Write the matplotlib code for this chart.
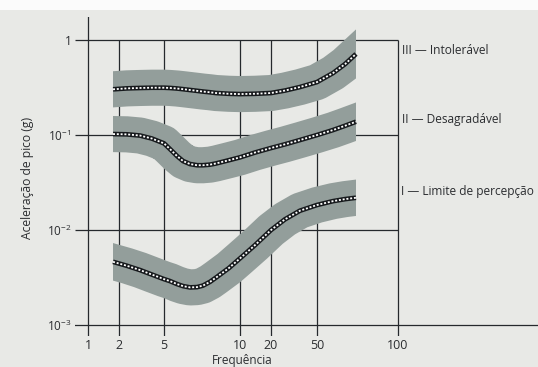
import numpy as np
import matplotlib
matplotlib.use("Agg")
import matplotlib.pyplot as plt
from matplotlib.patches import Rectangle
import matplotlib.transforms as mtransforms

# Frequências (Hz) onde as curvas foram lidas
freq = [1.75, 2.35, 3.07, 3.91, 5.0, 5.28, 5.63, 5.95, 6.34, 6.76, 7.13, 7.61,
        8.03, 9.04, 10.0, 14.0, 20.0, 26.4, 35.6, 50.0, 57.4, 63.6, 69.8]

# Aceleração de pico (g) - curva III (intolerável)
acel_III = [0.302, 0.309, 0.312, 0.314, 0.314, 0.312, 0.308, 0.303, 0.297, 0.291, 0.286, 0.281,
            0.276, 0.271, 0.269, 0.271, 0.276, 0.293, 0.319, 0.360, 0.449, 0.558, 0.712]
# curva II (desagradável)
acel_II = [0.1019, 0.1012, 0.0983, 0.0914, 0.0813, 0.0708, 0.0598, 0.0529, 0.0492, 0.0478, 0.0478, 0.0485,
           0.0499, 0.0540, 0.0579, 0.0651, 0.0726, 0.0794, 0.0881, 0.0995, 0.1124, 0.1247, 0.1375]
# curva I (limite de percepção)
acel_I = [0.00458, 0.00416, 0.00375, 0.00336, 0.00301, 0.00287, 0.00267, 0.00254, 0.00246, 0.00248,
          0.00257, 0.00282, 0.00312, 0.00394, 0.00498, 0.00688, 0.00991, 0.01285, 0.01585, 0.0182,
          0.0200, 0.0210, 0.0217]

rotulos = ["III — Intolerável", "II — Desagradável", "I — Limite de percepção"]

tick_freqs = [1, 2, 5, 10, 20, 50, 100]
tick_labels = ["1", "2", "5", "10", "20", "50", "100"]
y_ticks = [1e-3, 1e-2, 1e-1, 1]
y_labels = [r"$\mathregular{10^{-3}}$", r"$\mathregular{10^{-2}}$", r"$\mathregular{10^{-1}}$", "1"]

# posição horizontal (px) das divisões impressas - o eixo original não é log regular
tick_px = np.array([88, 119, 164, 240, 271, 317, 398], dtype=float)
log_t = np.log10(tick_freqs)


def para_px(f):
    lf = np.log10(np.clip(np.asarray(f, dtype=float), 1e-9, None))
    out = np.interp(lf, log_t, tick_px)
    s0 = (tick_px[1] - tick_px[0]) / (log_t[1] - log_t[0])
    s1 = (tick_px[-1] - tick_px[-2]) / (log_t[-1] - log_t[-2])
    out = np.where(lf < log_t[0], tick_px[0] + (lf - log_t[0]) * s0, out)
    out = np.where(lf > log_t[-1], tick_px[-1] + (lf - log_t[-1]) * s1, out)
    return out


def de_px(p):
    p = np.asarray(p, dtype=float)
    lf = np.interp(p, tick_px, log_t)
    s0 = (log_t[1] - log_t[0]) / (tick_px[1] - tick_px[0])
    s1 = (log_t[-1] - log_t[-2]) / (tick_px[-1] - tick_px[-2])
    lf = np.where(p < tick_px[0], log_t[0] + (p - tick_px[0]) * s0, lf)
    lf = np.where(p > tick_px[-1], log_t[-1] + (p - tick_px[-1]) * s1, lf)
    return 10 ** lf


plt.rcParams["font.family"] = ["Open Sans", "DejaVu Sans"]
plt.rcParams["mathtext.fontset"] = "custom"
plt.rcParams["mathtext.rm"] = "Open Sans"

W, H = 538, 367
cor_fundo = "#e8e9e6"
cor_linha = "#25292d"
cor_faixa = "#939e9b"
cor_texto = "#2b2d30"

fig = plt.figure(figsize=(W / 100, H / 100), dpi=100, facecolor=cor_fundo)
fig.patches.append(Rectangle((0, 1 - 10 / H), 1, 10 / H, transform=fig.transFigure,
                             facecolor="#fbfbfb", edgecolor="none", zorder=0))

ax = fig.add_axes([75 / W, 1 - 336 / H, (538 - 75) / W, (336 - 17) / H])
ax.set_facecolor("none")
ax.set_xscale("function", functions=(para_px, de_px))
ax.set_yscale("log")
x0, x1 = float(de_px(75)), float(de_px(538))
ax.set_xlim(x0, x1)
# 1 em y=40px e 10^-3 em y=324.5px
dec = (324.5 - 40) / 3
ax.set_ylim(10 ** (-3 - (336 - 324.5) / dec), 10 ** ((40 - 17) / dec))
for s in ax.spines.values():
    s.set_visible(False)

# linhas da grade
lw_g = 0.9
ax.axvline(1, color=cor_linha, lw=lw_g, zorder=1)
ax.vlines(tick_freqs[1:], ax.get_ylim()[0], 1, color=cor_linha, lw=lw_g, zorder=1)
ax.hlines([1, 1e-1, 1e-2], x0, 100, color=cor_linha, lw=lw_g, zorder=1)
ax.axhline(1e-3, color=cor_linha, lw=lw_g, zorder=1)

# faixas e curvas pontilhadas
blend = mtransforms.blended_transform_factory(ax.transData, ax.transAxes)
for acel in [acel_III, acel_II, acel_I]:
    clip = Rectangle((freq[0], 0), freq[-1] - freq[0], 1, transform=blend,
                     facecolor="none", edgecolor="none")
    faixa, = ax.plot(freq, acel, color=cor_faixa, lw=26, solid_capstyle="projecting",
                     solid_joinstyle="round", zorder=2)
    faixa.set_clip_path(clip)
    ax.plot(freq, acel, color="#16191c", lw=3.4, solid_capstyle="butt",
            solid_joinstyle="round", zorder=3)
    ax.plot(freq, acel, color="white", lw=1.3, linestyle=(0, (1.1, 1.0)),
            dash_capstyle="butt", zorder=4)

ax.set_xticks(tick_freqs, tick_labels)
ax.set_yticks(y_ticks, y_labels)
ax.minorticks_off()
ax.tick_params(axis="x", length=0, pad=2.5, labelsize=9, labelcolor=cor_texto)
ax.tick_params(axis="y", length=0, pad=2.5, labelsize=8.5, labelcolor=cor_texto)

fig.text(28 / W, 1 - 178 / H, "Aceleração de pico (g)", rotation=90, ha="center",
         va="center", fontsize=8.7, color=cor_texto)
fig.text(242 / W, 1 - 354 / H, "Frequência", ha="center", va="top",
         fontsize=8.5, color=cor_texto)

pos_rot = [(402, 51), (402, 120), (401, 191)]
for txt, (px, py) in zip(rotulos, pos_rot):
    fig.text(px / W, 1 - py / H, txt, ha="left", va="center", fontsize=8.6, color=cor_texto)

fig.savefig("out.png", dpi=100, facecolor=fig.get_facecolor())
